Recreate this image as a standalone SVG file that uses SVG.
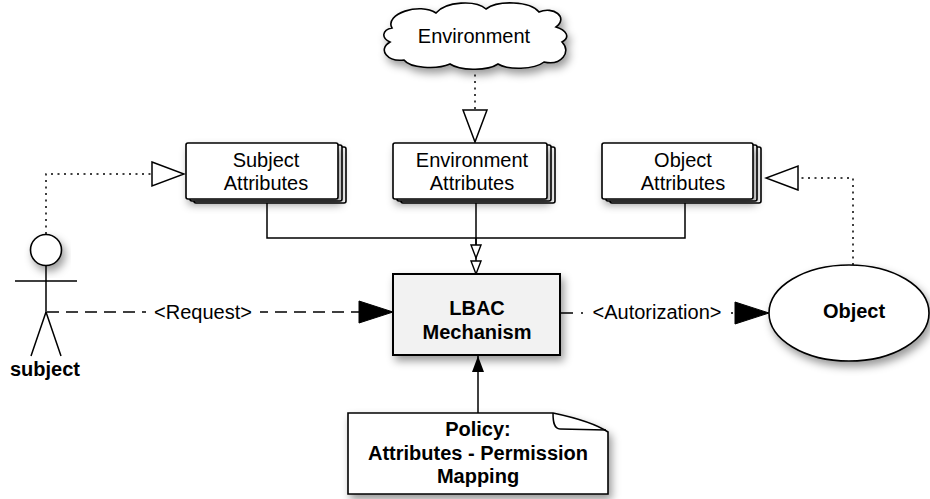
<svg xmlns="http://www.w3.org/2000/svg" width="930" height="499" viewBox="0 0 930 499">
<style>
text{font-family:"Liberation Sans",Arial,Helvetica,sans-serif;font-size:20px;fill:#000;text-anchor:middle}
.b{font-weight:bold}
.box{fill:#fff;stroke:#000;stroke-width:1.6}
.ln{fill:none;stroke:#000;stroke-width:1.5}
.dot{stroke-dasharray:2,4.5}
.dash{stroke-dasharray:12,7}
.dd{stroke-dasharray:12,8,2,8}
.sh{filter:url(#shadow)}
</style>
<defs>
<filter id="shadow" x="-20%" y="-20%" width="150%" height="160%">
<feDropShadow dx="3" dy="5" stdDeviation="4" flood-color="#000" flood-opacity="0.4"/>
</filter>
<marker id="hollowL" markerUnits="userSpaceOnUse" markerWidth="36" markerHeight="28" viewBox="0 0 36 28" refX="34" refY="14" orient="auto">
<path d="M2,2 L34,14 L2,26 Z" fill="#fff" stroke="#000" stroke-width="1.5"/>
</marker>
<marker id="filledL" markerUnits="userSpaceOnUse" markerWidth="36" markerHeight="26" viewBox="0 0 36 26" refX="35" refY="13" orient="auto">
<path d="M1,2 L35,13 L1,24 Z" fill="#000" stroke="#000" stroke-width="1"/>
</marker>
<marker id="hollowS" markerUnits="userSpaceOnUse" markerWidth="16" markerHeight="14" viewBox="0 0 16 14" refX="14.5" refY="7" orient="auto">
<path d="M1.5,2 L14.5,7 L1.5,12 Z" fill="#fff" stroke="#000" stroke-width="1.4"/>
</marker>
<marker id="filledS" markerUnits="userSpaceOnUse" markerWidth="18" markerHeight="14" viewBox="0 0 18 14" refX="17" refY="7" orient="auto">
<path d="M1,1 L17,7 L1,13 Z" fill="#000"/>
</marker>
</defs>
<rect width="930" height="499" fill="#fff"/>

<g id="connectors">
<path class="ln dot" d="M475,68 V142" marker-end="url(#hollowL)"/>
<path class="ln dot" d="M46,234 V174 H184" marker-end="url(#hollowL)"/>
<path class="ln dot" d="M853,265 V178 H766" marker-end="url(#hollowL)"/>
<path class="ln" d="M267,199 V238 H685 V199"/>
<path class="ln" d="M476,238 V274" marker-end="url(#hollowS)"/>
<path class="ln" d="M476,200 V258" marker-end="url(#hollowS)"/>
<path class="ln dash" d="M47,312 H393" marker-end="url(#filledL)"/>
<rect x="146" y="300" width="114" height="24" fill="#fff"/>
<text x="203" y="319">&lt;Request&gt;</text>
<path class="ln dd" d="M561,313 H769" marker-end="url(#filledL)"/>
<rect x="586" y="300" width="143" height="24" fill="#fff"/>
<text x="657" y="319">&lt;Autorization&gt;</text>
<path class="ln" d="M478,413 V356" marker-end="url(#filledS)"/>
</g>

<g id="environment">
<path class="box sh" d="M392,28 C384,14 420,2 436,13 C446,1 476,0 486,9 C498,0 530,1 539,12 C553,6 569,17 556,27 C566,30 571,37 562,42 C572,52 561,66 544,62 C534,70 508,70 498,64 C486,72 459,70 450,64 C436,70 410,68 404,60 C388,62 377,50 390,42 C381,38 382,30 392,28 Z"/>
<text x="474" y="43">Environment</text>
</g>

<g id="subject-attributes">
<rect class="box" x="194" y="147" width="152" height="56" rx="2"/>
<rect class="box" x="190" y="145" width="152" height="56" rx="2"/>
<rect class="box sh" x="186" y="143" width="152" height="56" rx="2"/>
<text x="266" y="167">Subject</text>
<text x="266" y="190">Attributes</text>
</g>

<g id="environment-attributes">
<rect class="box" x="401" y="147" width="154" height="56" rx="2"/>
<rect class="box" x="397" y="145" width="154" height="56" rx="2"/>
<rect class="box sh" x="393" y="143" width="154" height="56" rx="2"/>
<text x="472" y="167">Environment</text>
<text x="472" y="190">Attributes</text>
</g>

<g id="object-attributes">
<rect class="box" x="610" y="147" width="151" height="56" rx="2"/>
<rect class="box" x="606" y="145" width="151" height="56" rx="2"/>
<rect class="box sh" x="602" y="143" width="151" height="56" rx="2"/>
<text x="683" y="167">Object</text>
<text x="683" y="190">Attributes</text>
</g>

<g id="subject">
<circle class="box sh" cx="46" cy="250" r="15.5"/>
<path class="ln" d="M46,266 V312 M15,281 H77 M46,312 L31,356 M46,312 L61,356"/>
<text class="b" x="45" y="376">subject</text>
</g>

<g id="lbac">
<rect class="sh" x="393" y="274" width="167" height="81" fill="#f2f2f2" stroke="#000" stroke-width="2"/>
<text class="b" x="477" y="315">LBAC</text>
<text class="b" x="477" y="339">Mechanism</text>
</g>

<g id="object">
<ellipse class="box sh" cx="849" cy="313" rx="80" ry="48"/>
<text class="b" x="854" y="318">Object</text>
</g>

<g id="policy">
<path class="box sh" d="M348,413 H553 C572,417 596,424 608,432 V494 H348 Z"/>
<path class="ln" d="M553,413 C553,422 554,429 560,429 L606,430"/>
<text class="b" x="478" y="436">Policy:</text>
<text class="b" x="478" y="460">Attributes - Permission</text>
<text class="b" x="478" y="483">Mapping</text>
</g>
</svg>
